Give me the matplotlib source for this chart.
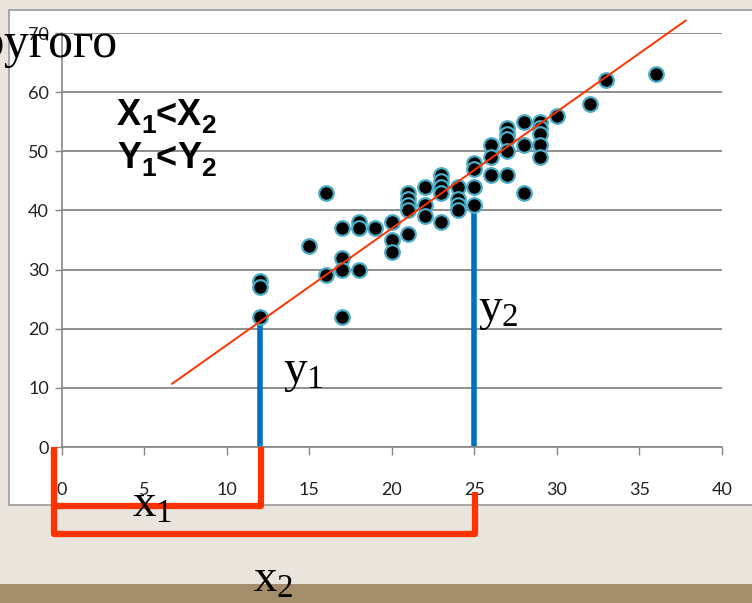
import matplotlib
matplotlib.use("Agg")
import matplotlib.pyplot as plt
from matplotlib.patches import Rectangle
import numpy as np

# --- DATA --------------------------- #
xs = [12, 12, 12, 15, 16, 16, 17, 17, 17, 17, 18, 18, 18, 19, 20, 20, 20,
      21, 21, 21, 21, 21, 22, 22, 22, 23, 23, 23, 23, 23, 24, 24, 24, 24,
      25, 25, 25, 25, 26, 26, 26, 27, 27, 27, 27, 27, 28, 28, 28,
      29, 29, 29, 29, 29, 30, 32, 33, 36]
ys = [28, 27, 22, 34, 43, 29, 37, 32, 30, 22, 38, 37, 30, 37, 38, 35, 33,
      43, 42, 41, 40, 36, 44, 41, 39, 46, 45, 44, 43, 38, 44, 42, 41, 40,
      48, 47, 44, 41, 51, 49, 46, 54, 53, 52, 50, 46, 55, 51, 43,
      55, 54, 53, 51, 49, 56, 58, 62, 63]

trend_x = [6.7, 37.8]
trend_y = [10.7, 72.1]

pick_x = [12, 25]      # x1, x2
pick_y = [21.5, 41]    # y1, y2

x_ticks = [0, 5, 10, 15, 20, 25, 30, 35, 40]
y_ticks = [0, 10, 20, 30, 40, 50, 60, 70]
# ------------------------------------ #

plt.rcParams['mathtext.fontset'] = 'custom'
plt.rcParams['mathtext.rm'] = 'Liberation Serif'
plt.rcParams['mathtext.it'] = 'Liberation Serif:italic'

W, H = 752, 603
fig = plt.figure(figsize=(W / 100, H / 100), dpi=100, facecolor='#E9E4DC')


def px(x, y):
    return x / W, 1 - y / H


def sub_text(x, y, pieces, **kw):
    # pieces: (text, fontsize, drop in px); laid out left to right on the baseline y
    r = fig.canvas.get_renderer()
    for s, size, drop in pieces:
        t = fig.text(*px(x, y + drop), s, fontsize=size, ha='left', va='baseline', **kw)
        x += t.get_window_extent(renderer=r).width


# slide decorations
fig.add_artist(Rectangle(px(8.5, 505), (W - 8.5) / W + 0.01, (505 - 10) / H,
                         transform=fig.transFigure, facecolor='white',
                         edgecolor='#9a9a9a', lw=1.2, zorder=-2))
fig.add_artist(Rectangle((0, 0), 1, (H - 584) / H, transform=fig.transFigure,
                         facecolor='#A38D6B', edgecolor='none', zorder=-1))

ax = fig.add_axes([61.5 / W, (H - 447) / H, 660.5 / W, 414 / H])
ax.set_facecolor('none')
ax.set_xlim(0, 40)
ax.set_ylim(0, 70)

ax.set_xticks(x_ticks)
ax.set_yticks(y_ticks)
for lab in ax.get_xticklabels() + ax.get_yticklabels():
    lab.set_family('Lato')
ax.tick_params(axis='x', length=6, width=1, color='#868686', pad=19,
               labelsize=13, labelcolor='#222222')
ax.tick_params(axis='y', length=5, width=1, color='#868686', pad=4,
               labelsize=13, labelcolor='#222222')

for side in ['top', 'right']:
    ax.spines[side].set_visible(False)
for side in ['left', 'bottom']:
    ax.spines[side].set_color('#868686')
    ax.spines[side].set_linewidth(1.2)

ax.grid(axis='y', color='#868686', lw=1.3)
ax.set_axisbelow(True)

# vertical helpers y1, y2
ax.vlines(pick_x, 0, pick_y, colors='#0070C0', lw=4, zorder=2)

# scatter + trend
ax.plot(xs, ys, 'o', ms=10.5, mfc='black', mec='#4BACC6', mew=1.6,
        zorder=3, clip_on=False)
ax.plot(trend_x, trend_y, color='#FF3300', lw=1.4, zorder=4, clip_on=False)

# red brackets for x1, x2
red = '#FF3300'
ax.plot([-0.45, -0.45, pick_x[0] + 0.1, pick_x[0] + 0.1], [0, -10.0, -10.0, 0],
        color=red, lw=4.5, solid_joinstyle='round', solid_capstyle='butt',
        clip_on=False, zorder=5)
ax.plot([-0.45, -0.45, pick_x[1] + 0.03, pick_x[1] + 0.03], [-0.5, -14.7, -14.7, -7.55],
        color=red, lw=4.5, solid_joinstyle='round', solid_capstyle='butt',
        clip_on=False, zorder=5)

# texts
fig.text(*px(118, 57), 'другого', family='Liberation Serif', fontsize=36,
         ha='right', va='baseline', color='black', zorder=10)

bold = dict(family=['Liberation Sans', 'DejaVu Sans'], weight='bold', color='black')
sub_text(117, 125, [('X', 26, 0), ('1', 19, 8), ('<', 26, 0), ('X', 26, 0), ('2', 19, 8)], **bold)
sub_text(117, 168, [('Y', 26, 0), ('1', 19, 8), ('<', 26, 0), ('Y', 26, 0), ('2', 19, 8)], **bold)

fig.text(*px(283, 382), r'$\mathrm{y}_1$', fontsize=34, ha='left', va='baseline')
fig.text(*px(478, 320), r'$\mathrm{y}_2$', fontsize=34, ha='left', va='baseline')
fig.text(*px(132, 517), r'$\mathrm{x}_1$', fontsize=34, ha='left', va='baseline')
fig.text(*px(253, 592), r'$\mathrm{x}_2$', fontsize=34, ha='left', va='baseline')

fig.savefig('out.png', dpi=100, facecolor=fig.get_facecolor())
